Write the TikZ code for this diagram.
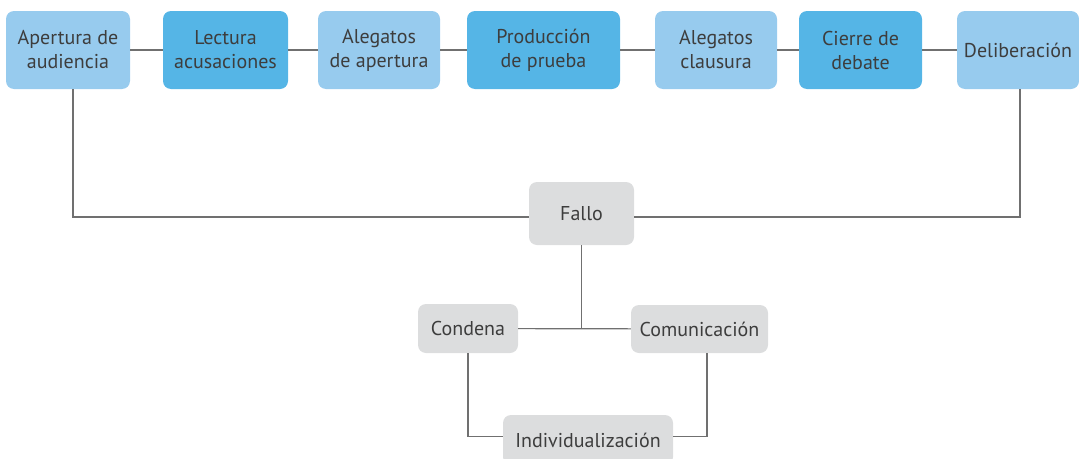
\documentclass[tikz,border=0pt]{standalone}
\usepackage{fontspec}
\setmainfont{PT Sans}
\usetikzlibrary{positioning}

\definecolor{azulclaro}{HTML}{97CBEE}
\definecolor{azul}{HTML}{55B5E6}
\definecolor{grisbox}{HTML}{DCDDDE}
\definecolor{texto}{HTML}{3D3D3D}
\definecolor{gristrazo}{HTML}{707070}

\tikzset{
  caja/.style={rounded corners=8pt, align=center, text=texto, inner sep=0pt,
    font=\fontsize{20}{24}\selectfont},
  claro/.style={caja, fill=azulclaro},
  oscuro/.style={caja, fill=azul},
  gris/.style={caja, fill=grisbox},
  conector/.style={draw=gristrazo, line width=1.2pt},
}

\begin{document}
\begin{tikzpicture}[x=1pt,y=-1pt]
  \useasboundingbox (0,0) rectangle (1079,458);

  % etapas del juicio
  \node[claro, minimum width=124pt, minimum height=78pt] (apertura) at (68,50) {Apertura de\\audiencia};
  \node[oscuro, minimum width=125pt, minimum height=78pt] (lectura) at (225.5,50) {Lectura\\acusaciones};
  \node[claro, minimum width=122pt, minimum height=78pt] (alegatos) at (379,50) {Alegatos\\de apertura};
  \node[oscuro, minimum width=153pt, minimum height=78pt] (produccion) at (543.5,50) {Producción\\de prueba};
  \node[claro, minimum width=122pt, minimum height=78pt] (clausura) at (716,50) {Alegatos\\clausura};
  \node[oscuro, minimum width=123pt, minimum height=78pt] (cierre) at (860.5,50) {Cierre de\\debate};
  \node[claro, minimum width=122pt, minimum height=78pt] (deliberacion) at (1018,50) {Deliberación};

  % resultado
  \node[gris, minimum width=105pt, minimum height=63pt] (fallo) at (581.5,213.5) {Fallo};
  \node[gris, minimum width=100pt, minimum height=49pt] (condena) at (468,328.5) {Condena};
  \node[gris, minimum width=137pt, minimum height=48pt] (comunicacion) at (699.5,329) {Comunicación};
  \node[gris, minimum width=170pt, minimum height=50pt] (individual) at (588,440) {Individualización};

  \draw[conector] (apertura) -- (lectura);
  \draw[conector] (lectura) -- (alegatos);
  \draw[conector] (alegatos) -- (produccion);
  \draw[conector] (produccion) -- (clausura);
  \draw[conector] (clausura) -- (cierre);
  \draw[conector] (cierre) -- (deliberacion);

  \draw[conector] ([xshift=5pt]apertura.south) |- ([yshift=-3.5pt]fallo.west);
  \draw[conector] ([xshift=2pt]deliberacion.south) |- ([yshift=-3.5pt]fallo.east);

  \draw[conector] (fallo.south) -- (fallo.south |- condena.east);
  \draw[conector] (condena) -- (comunicacion);
  \draw[conector] (condena.south) |- ([yshift=3.5pt]individual.west);
  \draw[conector] ([xshift=7.5pt]comunicacion.south) |- ([yshift=3.5pt]individual.east);
\end{tikzpicture}
\end{document}
